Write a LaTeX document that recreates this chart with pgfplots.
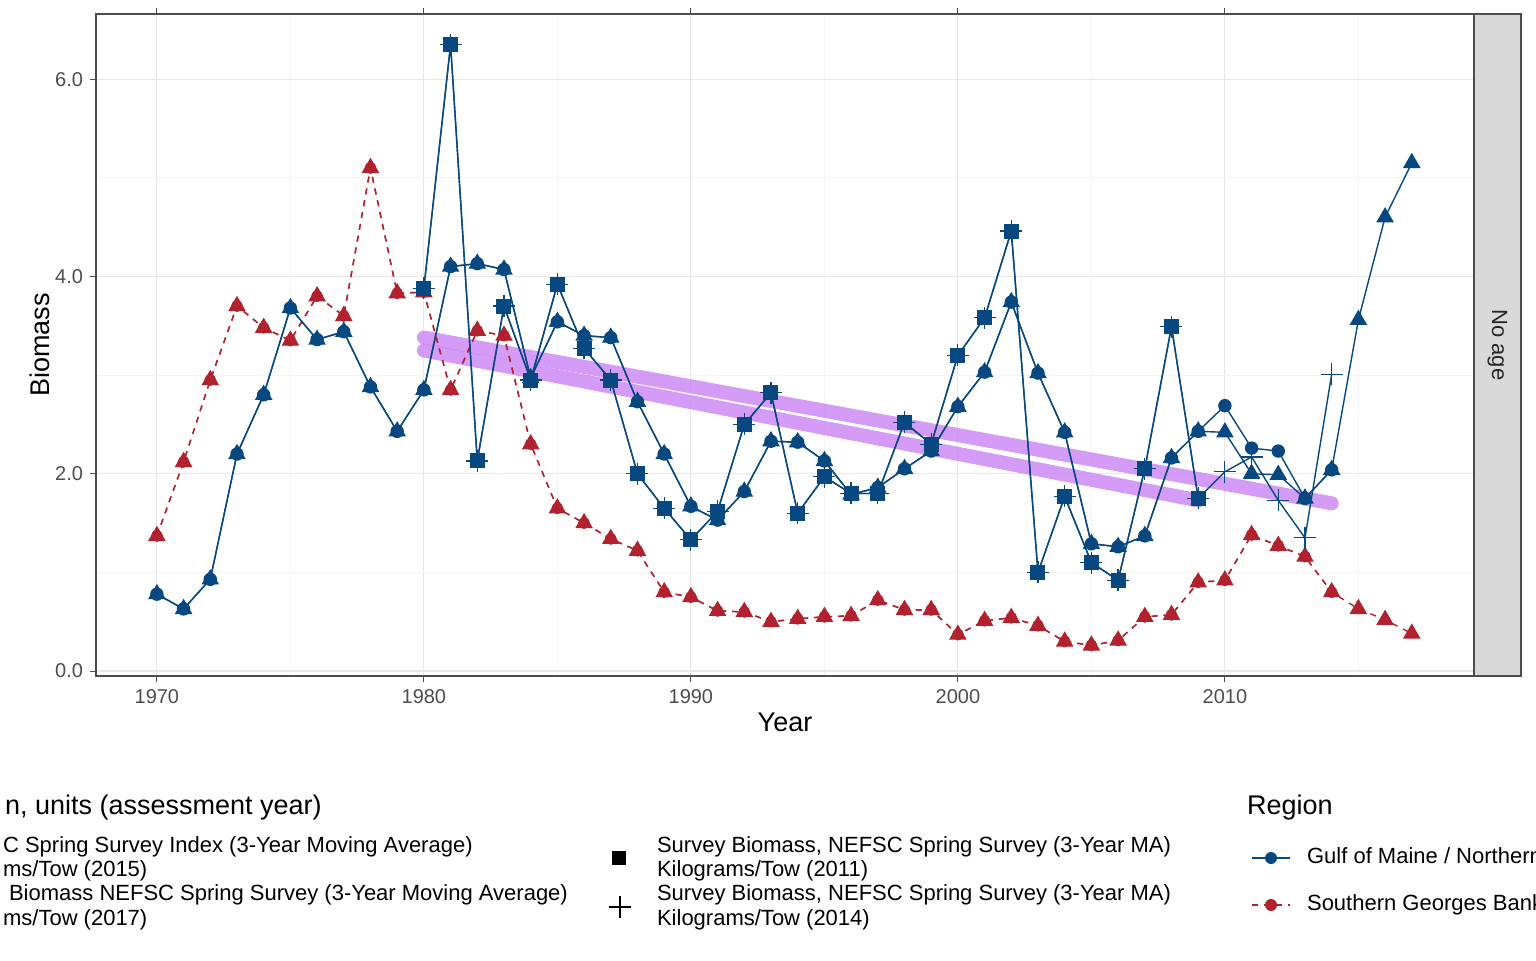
\documentclass[border=0pt]{standalone}
\usepackage{fontspec}
\setmainfont{Liberation Sans}
\usepackage{pgfplots}
\pgfplotsset{compat=1.18}
\definecolor{cblue}{RGB}{8,72,128}
\definecolor{cred}{RGB}{178,34,46}
\definecolor{cpurp}{RGB}{170,60,240}
\definecolor{tickg}{RGB}{77,77,77}
\begin{document}
\begin{tikzpicture}[x=1pt,y=1pt]
\path[use as bounding box, clip] (0,0) rectangle (768,480);
\begin{axis}[at={(48pt,142pt)}, anchor=south west, scale only axis,
  width=689pt, height=331pt,
  xmin=1967.72, xmax=2019.33, ymin=-0.05, ymax=6.66,
  xtick={1970,1980,1990,2000,2010}, ytick={0,2,4,6},
  minor xtick={1975,1985,1995,2005,2015}, minor ytick={1,3,5},
  xticklabel style={/pgf/number format/1000 sep={}},
  yticklabel style={/pgf/number format/fixed,/pgf/number format/fixed zerofill,/pgf/number format/precision=1},
  /pgf/number format/assume math mode=true,
  ticklabel style={font=\fontsize{10}{12}\selectfont, text=tickg},
  grid=both, major grid style={gray!18, line width=0.6pt}, minor grid style={gray!9, line width=0.4pt},
  tick align=outside, major tick length=3pt, minor tick length=0pt, tick style={tickg, line width=0.5pt},
  axis line style={tickg, line width=0.6pt},
  xlabel={Year}, ylabel={Biomass},
  label style={font=\fontsize{13.5}{15}\selectfont},
  xlabel style={yshift=2pt}, ylabel style={yshift=-4pt},
  every axis plot/.append style={line width=0.7pt},
]
\addplot[cpurp!60!white, opacity=0.85, line width=7pt, line cap=round] coordinates {(1980,3.38) (2014,1.70)};
\addplot[cpurp!60!white, opacity=0.85, line width=7pt, line cap=round] coordinates {(1980,3.25) (2009,1.73)};
\addplot[cred, dashed, mark=*, mark size=2.6pt, mark options={solid}] coordinates {
(1970,1.37)(1971,2.12)(1972,2.95)(1973,3.70)(1974,3.48)(1975,3.35)(1976,3.80)(1977,3.60)(1978,5.10)(1979,3.83)
(1980,3.84)(1981,2.85)(1982,3.45)(1983,3.40)(1984,2.30)(1985,1.65)(1986,1.50)(1987,1.34)(1988,1.22)(1989,0.80)
(1990,0.75)(1991,0.61)(1992,0.60)(1993,0.50)(1994,0.53)(1995,0.55)(1996,0.56)(1997,0.72)(1998,0.62)(1999,0.62)
(2000,0.37)(2001,0.51)(2002,0.54)(2003,0.46)(2004,0.30)(2005,0.26)(2006,0.31)(2007,0.55)(2008,0.57)(2009,0.90)
(2010,0.92)(2011,1.38)(2012,1.27)(2013,1.16)(2014,0.80)};
\addplot[cred, dashed, mark=triangle*, mark size=4.4pt, mark options={solid}] coordinates {
(1970,1.37)(1971,2.12)(1972,2.95)(1973,3.70)(1974,3.48)(1975,3.35)(1976,3.80)(1977,3.60)(1978,5.10)(1979,3.83)
(1980,3.84)(1981,2.85)(1982,3.45)(1983,3.40)(1984,2.30)(1985,1.65)(1986,1.50)(1987,1.34)(1988,1.22)(1989,0.80)
(1990,0.75)(1991,0.61)(1992,0.60)(1993,0.50)(1994,0.53)(1995,0.55)(1996,0.56)(1997,0.72)(1998,0.62)(1999,0.62)
(2000,0.37)(2001,0.51)(2002,0.54)(2003,0.46)(2004,0.30)(2005,0.26)(2006,0.31)(2007,0.55)(2008,0.57)(2009,0.90)
(2010,0.92)(2011,1.38)(2012,1.27)(2013,1.16)(2014,0.80)(2015,0.63)(2016,0.52)(2017,0.38)};
\addplot[cblue, mark=*, mark size=3pt] coordinates {
(1970,0.78)(1971,0.63)(1972,0.93)(1973,2.20)(1974,2.80)(1975,3.68)(1976,3.36)(1977,3.44)(1978,2.88)(1979,2.43)
(1980,2.85)(1981,4.10)(1982,4.13)(1983,4.07)(1984,2.97)(1985,3.54)(1986,3.40)(1987,3.38)(1988,2.73)(1989,2.20)
(1990,1.67)(1991,1.53)(1992,1.82)(1993,2.33)(1994,2.32)(1995,2.13)(1996,1.79)(1997,1.86)(1998,2.05)(1999,2.23)
(2000,2.68)(2001,3.03)(2002,3.74)(2003,3.02)(2004,2.42)(2005,1.29)(2006,1.26)(2007,1.37)(2008,2.16)(2009,2.43)
(2010,2.69)(2011,2.26)(2012,2.23)(2013,1.75)(2014,2.04)};
\addplot[cblue, mark=triangle*, mark size=4.4pt] coordinates {
(1970,0.78)(1971,0.63)(1972,0.93)(1973,2.20)(1974,2.80)(1975,3.68)(1976,3.36)(1977,3.44)(1978,2.88)(1979,2.43)
(1980,2.85)(1981,4.10)(1982,4.13)(1983,4.07)(1984,2.97)(1985,3.54)(1986,3.40)(1987,3.38)(1988,2.73)(1989,2.20)
(1990,1.67)(1991,1.53)(1992,1.82)(1993,2.33)(1994,2.32)(1995,2.13)(1996,1.79)(1997,1.86)(1998,2.05)(1999,2.23)
(2000,2.68)(2001,3.03)(2002,3.74)(2003,3.02)(2004,2.42)(2005,1.29)(2006,1.26)(2007,1.37)(2008,2.16)(2009,2.43)
(2010,2.42)(2011,2.00)(2012,1.99)(2013,1.75)(2014,2.04)(2015,3.56)(2016,4.60)(2017,5.15)};
\addplot[cblue, mark=square*, mark size=3.4pt] coordinates {
(1980,3.88)(1981,6.35)(1982,2.13)(1983,3.70)(1984,2.95)(1985,3.92)(1986,3.27)(1987,2.95)(1988,2.00)(1989,1.65)
(1990,1.33)(1991,1.62)(1992,2.50)(1993,2.82)(1994,1.60)(1995,1.97)(1996,1.80)(1997,1.80)(1998,2.52)(1999,2.30)
(2000,3.20)(2001,3.58)(2002,4.46)(2003,1.00)(2004,1.77)(2005,1.10)(2006,0.92)(2007,2.05)(2008,3.49)(2009,1.75)};
\addplot[cblue, mark=+, mark size=5.5pt, mark options={line width=0.6pt}] coordinates {
(1980,3.88)(1981,6.35)(1982,2.13)(1983,3.70)(1984,2.95)(1985,3.92)(1986,3.27)(1987,2.95)(1988,2.00)(1989,1.65)
(1990,1.33)(1991,1.62)(1992,2.50)(1993,2.82)(1994,1.60)(1995,1.97)(1996,1.80)(1997,1.80)(1998,2.52)(1999,2.30)
(2000,3.20)(2001,3.58)(2002,4.46)(2003,1.00)(2004,1.77)(2005,1.10)(2006,0.92)(2007,2.05)(2008,3.49)(2009,1.75)
(2010,2.02)(2011,2.17)(2012,1.73)(2013,1.35)(2014,3.01)};
\end{axis}
\draw[fill=gray!30, draw=tickg, line width=0.6pt] (737,142) rectangle (760.5,473);
\node[rotate=-90, font=\fontsize{11}{13}\selectfont, text=black!85] at (748.75,307.5) {No age};
\node[anchor=west, font=\fontsize{13.5}{15}\selectfont] at (-1,76) {n, units (assessment year)};
\begin{scope}[font=\fontsize{11}{13}\selectfont]
\node[anchor=west] at (-2,56.5) {C Spring Survey Index (3-Year Moving Average)};
\node[anchor=west] at (-2,44.5) {ms/Tow (2015)};
\node[anchor=west] at (1,32.5) {Biomass NEFSC Spring Survey (3-Year Moving Average)};
\node[anchor=west] at (-2,20) {ms/Tow (2017)};
\fill[black] (306,47.5) rectangle (313,54.5);
\draw[black, line width=0.6pt] (304.5,26.5) -- (315.5,26.5) (310,21) -- (310,32);
\node[anchor=west] at (325,56.5) {Survey Biomass, NEFSC Spring Survey (3-Year MA)};
\node[anchor=west] at (325,44.5) {Kilograms/Tow (2011)};
\node[anchor=west] at (325,32.5) {Survey Biomass, NEFSC Spring Survey (3-Year MA)};
\node[anchor=west] at (325,20) {Kilograms/Tow (2014)};
\node[anchor=west, font=\fontsize{13.5}{15}\selectfont] at (620,76) {Region};
\draw[cblue, line width=0.7pt] (626,51) -- (645,51); \fill[cblue] (635.5,51) circle (3pt);
\draw[cred, line width=0.7pt, dashed] (626,27.5) -- (645,27.5); \fill[cred] (635.5,27.5) circle (3pt);
\node[anchor=west] at (650,51) {Gulf of Maine / Northern Georges Bank};
\node[anchor=west] at (650,27.5) {Southern Georges Bank};
\end{scope}
\end{tikzpicture}
\end{document}
